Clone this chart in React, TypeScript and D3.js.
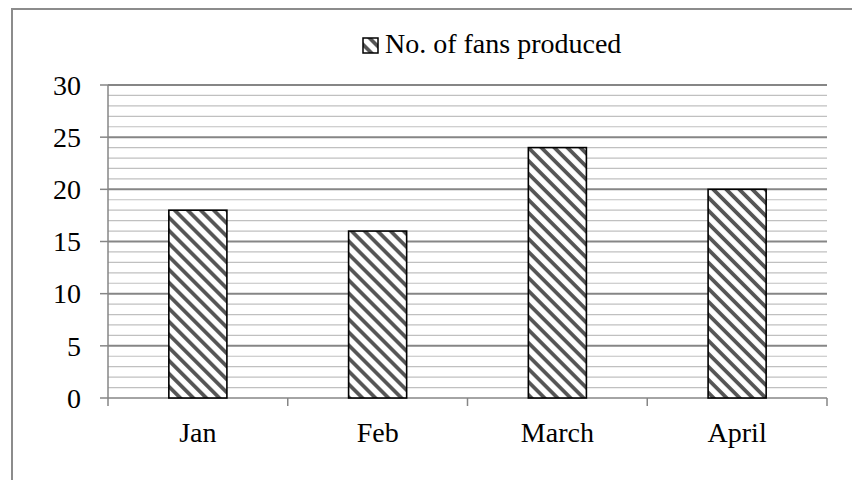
import React from "react";
import * as d3 from "d3";

const categories = ["Jan", "Feb", "March", "April"];
const fans = [18, 16, 24, 20];
const yTicks = [0, 5, 10, 15, 20, 25, 30];
const seriesName = "No. of fans produced";

const App: React.FC = () => {
  const width = 852;
  const height = 480;
  const margin = { top: 85, right: 25, bottom: 82, left: 108 };
  const innerW = width - margin.left - margin.right;
  const innerH = height - margin.top - margin.bottom;
  const font = "'Liberation Serif', 'Times New Roman', serif";
  const fontSize = 28;

  const x = d3
    .scaleBand()
    .domain(categories)
    .range([0, innerW])
    .paddingInner(0.677)
    .paddingOuter(0.3385);

  const y = d3.scaleLinear().domain([0, 30]).range([innerH, 0]);

  // minor grid every 1 unit, major every 5
  const minor = d3.range(1, 31).filter(v => v % 5 !== 0);
  const major = yTicks.filter(v => v > 0);

  const step = x.step();
  const boundaries = d3.range(0, categories.length + 1).map(i => i * step);

  return (
    <svg
      width={width}
      height={height}
      style={{ position: "absolute", left: 0, top: 0, background: "#fff" }}
    >
      <defs>
        <pattern
          id="hatch"
          patternUnits="userSpaceOnUse"
          width={9.2}
          height={9.2}
          patternTransform="rotate(-45)"
        >
          <rect width={9.2} height={9.2} fill="#fff" />
          <line x1={4.6} y1={0} x2={4.6} y2={9.2} stroke="#555" strokeWidth={3.8} />
        </pattern>
      </defs>

      {/* chart frame */}
      <rect x={12} y={9} width={860} height={500} fill="none" stroke="#8c8c8c" strokeWidth={2} />

      <g transform={`translate(${margin.left},${margin.top})`}>
        {minor.map(v => (
          <line key={`mi${v}`} x1={0} x2={innerW} y1={y(v)} y2={y(v)} stroke="#c0c0c0" strokeWidth={1.2} />
        ))}
        {major.map(v => (
          <line key={`ma${v}`} x1={0} x2={innerW} y1={y(v)} y2={y(v)} stroke="#868686" strokeWidth={2} />
        ))}

        {/* axes */}
        <line x1={0} x2={0} y1={0} y2={innerH} stroke="#868686" strokeWidth={1.5} />
        <line x1={0} x2={innerW} y1={innerH} y2={innerH} stroke="#868686" strokeWidth={1.5} />
        {yTicks.map(v => (
          <g key={`yt${v}`}>
            <line x1={-8} x2={0} y1={y(v)} y2={y(v)} stroke="#868686" strokeWidth={1.5} />
            <text
              x={-27}
              y={y(v)}
              dy="0.35em"
              textAnchor="end"
              fontFamily={font}
              fontSize={fontSize}
              fill="#000"
            >
              {v}
            </text>
          </g>
        ))}
        {boundaries.map((b, i) => (
          <line key={`xt${i}`} x1={b} x2={b} y1={innerH} y2={innerH + 8} stroke="#868686" strokeWidth={1.5} />
        ))}

        {/* bars */}
        {categories.map((c, i) => (
          <rect
            key={c}
            x={x(c)}
            y={y(fans[i])}
            width={x.bandwidth()}
            height={innerH - y(fans[i])}
            fill="url(#hatch)"
            stroke="#000"
            strokeWidth={1.6}
          />
        ))}

        {categories.map(c => (
          <text
            key={`cl${c}`}
            x={(x(c) ?? 0) + x.bandwidth() / 2}
            y={innerH + 44}
            textAnchor="middle"
            fontFamily={font}
            fontSize={fontSize}
            fill="#000"
          >
            {c}
          </text>
        ))}
      </g>

      {/* legend */}
      <g transform="translate(363,38)">
        <rect x={0} y={0} width={15} height={15} fill="url(#hatch)" stroke="#000" strokeWidth={1.5} />
        <text x={22} y={15} fontFamily={font} fontSize={fontSize} fill="#000">
          {seriesName}
        </text>
      </g>
    </svg>
  );
};

export default App;
